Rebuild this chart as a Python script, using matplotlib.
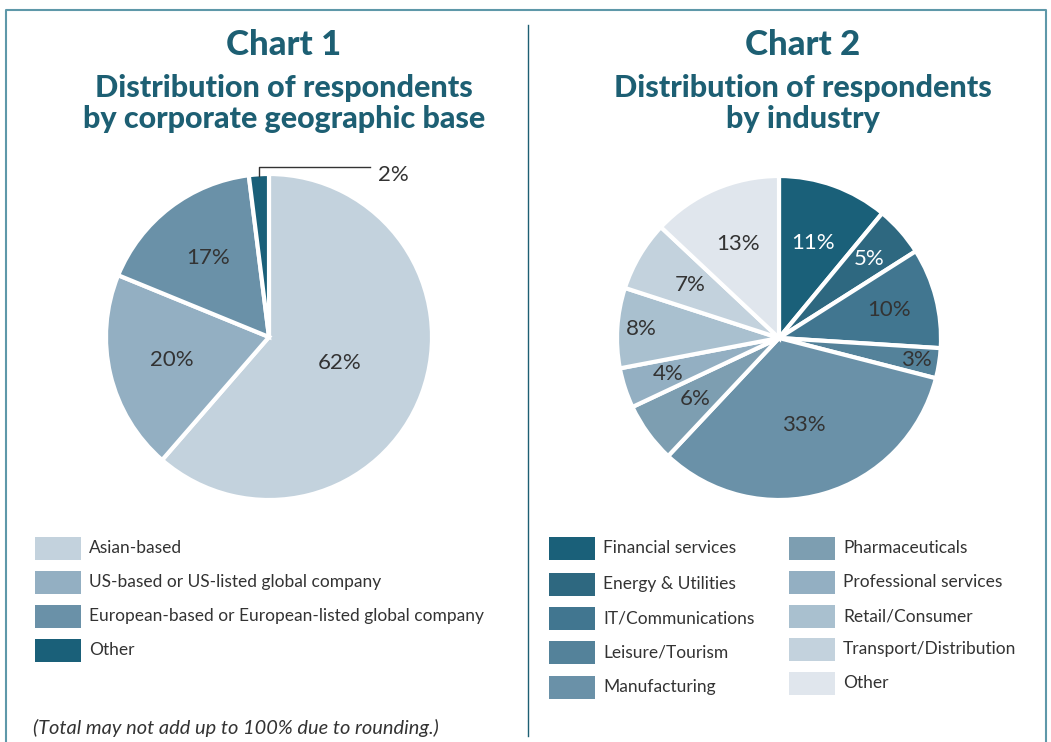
import numpy as np
import matplotlib
matplotlib.use("Agg")
import matplotlib.pyplot as plt
from matplotlib.patches import Rectangle
from matplotlib.lines import Line2D

# Data
geo_labels = ['Asian-based', 'US-based or US-listed global company',
              'European-based or European-listed global company', 'Other']
geo_values = [62, 20, 17, 2]
geo_colors = ['#c3d2dd', '#93afc2', '#6a91a8', '#1a6079']

ind_labels = ['Financial services', 'Energy & Utilities', 'IT/Communications',
              'Leisure/Tourism', 'Manufacturing', 'Pharmaceuticals',
              'Professional services', 'Retail/Consumer', 'Transport/Distribution', 'Other']
ind_values = [11, 5, 10, 3, 33, 6, 4, 8, 7, 13]
ind_colors = ['#1a6079', '#2e6880', '#417690', '#54829a', '#6a91a8',
              '#7d9eb1', '#93afc2', '#a9c0cf', '#c3d2dd', '#e0e6ed']

# label radius (fraction of pie radius) for each wedge's percentage
geo_label_r = [0.46, 0.61, 0.61, None]
ind_label_r = [0.62, 0.74, 0.70, 0.86, 0.56, 0.64, 0.72, 0.85, 0.64, 0.63]
ind_label_white = [True, True, False, False, False, False, False, False, False, False]

W, H = 1051, 742
TEAL = '#1d5f73'
TXT = '#333333'
plt.rcParams['font.family'] = ['Lato', 'DejaVu Sans']

fig = plt.figure(figsize=(W / 100, H / 100), dpi=100)


def px(x, y):
    # pixel coords (top-left origin) to figure fraction
    return x / W, 1 - y / H


# frame and divider
fig.add_artist(Line2D([6 / W, 6 / W, 1046 / W, 1046 / W], [0, 1 - 10 / H, 1 - 10 / H, 0],
                      color='#5e98a9', lw=1.5, transform=fig.transFigure))
fig.add_artist(Line2D([528 / W, 528 / W], [1 - 25 / H, 1 - 736 / H],
                      color=TEAL, lw=1.0, transform=fig.transFigure))


def pie_axes(cx, cy, r):
    half = r * 1.06
    ax = fig.add_axes([(cx - half) / W, (H - cy - half) / H, 2 * half / W, 2 * half / H])
    return ax


def draw_pie(ax, values, colors, radii, whites=None):
    wedges, _ = ax.pie(values, colors=colors, startangle=90, counterclock=False, radius=1,
                       wedgeprops=dict(edgecolor='white', linewidth=3))
    ax.set_xlim(-1.06, 1.06)
    ax.set_ylim(-1.06, 1.06)
    ax.set_aspect('equal')
    ax.axis('off')
    for i, (w, v) in enumerate(zip(wedges, values)):
        if radii[i] is None:
            continue
        ang = np.deg2rad((w.theta1 + w.theta2) / 2)
        r = radii[i]
        col = 'white' if (whites and whites[i]) else TXT
        ax.text(r * np.cos(ang), r * np.sin(ang), f'{v}%', ha='center', va='center',
                fontsize=16, color=col)
    return wedges


# Chart 1
ax1 = pie_axes(269, 337, 163)
w1 = draw_pie(ax1, geo_values, geo_colors, geo_label_r)
# leader line for the small 'Other' wedge
ang = np.deg2rad((w1[3].theta1 + w1[3].theta2) / 2)
x0, y0 = np.cos(ang), np.sin(ang)
ax1.plot([x0, x0, 0.62], [y0 - 0.01, 1.045, 1.045], color=TXT, lw=1, clip_on=False)
ax1.text(0.67, 0.995, f'{geo_values[3]}%', ha='left', va='center', fontsize=16, color=TXT)

# Chart 2
ax2 = pie_axes(779, 338, 162)
draw_pie(ax2, ind_values, ind_colors, ind_label_r, ind_label_white)

# Titles
titles = [(284, 'Chart 1', ['Distribution of respondents', 'by corporate geographic base']),
          (803, 'Chart 2', ['Distribution of respondents', 'by industry'])]
for cx, title, sub in titles:
    fig.text(*px(cx, 55), title, ha='center', va='baseline', fontsize=25,
             fontweight='black', color=TEAL)
    for line, yb in zip(sub, [97, 128]):
        fig.text(*px(cx, yb), line, ha='center', va='baseline', fontsize=22,
                 fontweight='black', color=TEAL)


# Legends
def legend_item(x, y, color, label):
    fig.add_artist(Rectangle(px(x, y + 11.5), 46 / W, 23 / H, facecolor=color,
                             edgecolor='none', transform=fig.transFigure))
    fig.text(*px(x + 54, y), label, ha='left', va='center', fontsize=12.5, color=TXT)


geo_rows = [548, 582, 616, 650]
for lab, col, y in zip(geo_labels, geo_colors, geo_rows):
    legend_item(35, y, col, lab)

ind_rows = [548, 584, 618, 652, 687, 548, 582, 616, 649, 683]
for i, (lab, col) in enumerate(zip(ind_labels, ind_colors)):
    x = 549 if i < 5 else 789
    legend_item(x, ind_rows[i], col, lab)

fig.text(*px(33, 728), '(Total may not add up to 100% due to rounding.)', ha='left', va='center',
         fontsize=14.4, fontstyle='italic', color=TXT)

fig.savefig('out.png', dpi=100)
